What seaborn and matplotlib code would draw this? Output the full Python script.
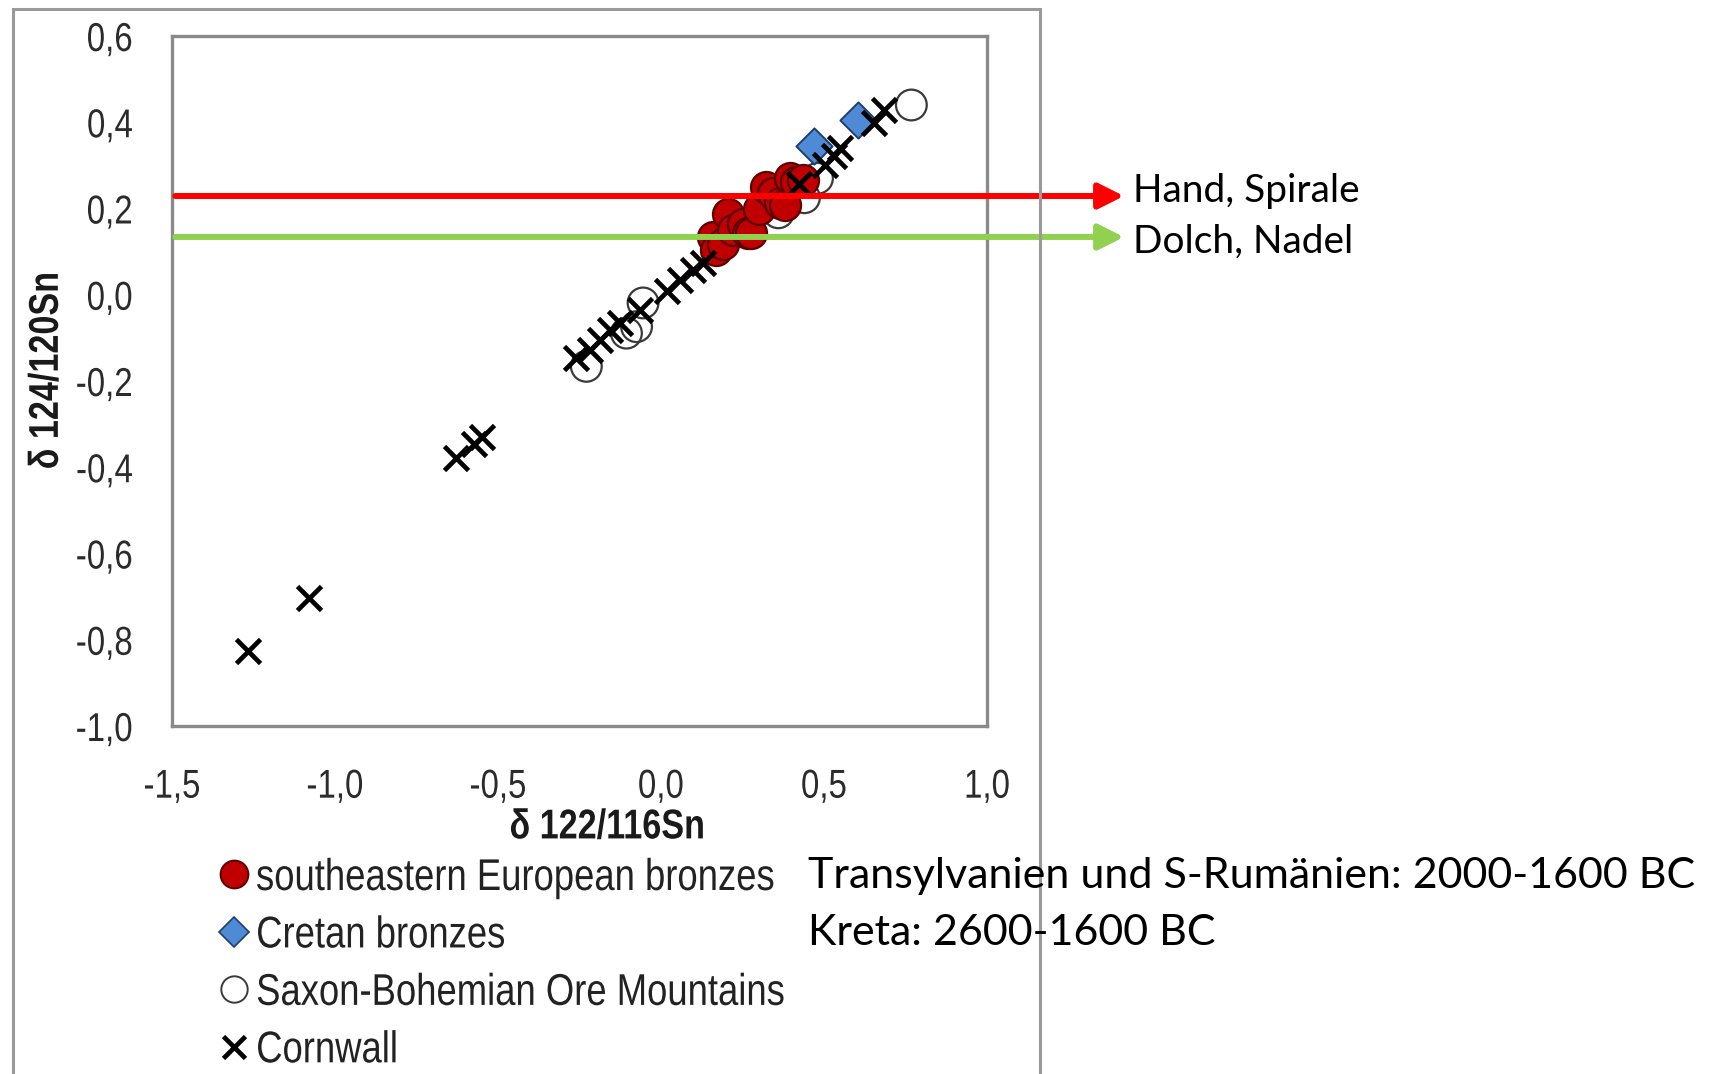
import matplotlib
matplotlib.use("Agg")
import matplotlib.pyplot as plt
import matplotlib.patheffects as pe
from matplotlib.patheffects import AbstractPathEffect
from matplotlib.transforms import Affine2D
from matplotlib.lines import Line2D
from matplotlib.patches import Rectangle
import seaborn as sns

# --- Tin isotope data (delta 122/116Sn vs delta 124/120Sn) ---
se_bronze_x = [0.160, 0.170, 0.190, 0.205, 0.221, 0.250, 0.266, 0.275, 0.300, 0.323, 0.343,
               0.364, 0.379, 0.395, 0.413, 0.435]
se_bronze_y = [0.135, 0.104, 0.118, 0.187, 0.150, 0.165, 0.144, 0.144, 0.200, 0.251, 0.236,
               0.213, 0.209, 0.270, 0.262, 0.267]

cretan_x = [0.470, 0.604]
cretan_y = [0.344, 0.406]

saxon_x = [-0.229, -0.106, -0.075, -0.055, 0.360, 0.440, 0.480, 0.768]
saxon_y = [-0.166, -0.089, -0.074, -0.019, 0.190, 0.225, 0.270, 0.440]

cornwall_x = [-1.268, -1.079, -0.628, -0.575, -0.548, -0.262, -0.219, -0.188, -0.157, -0.127,
              -0.065, 0.017, 0.057, 0.098, 0.129, 0.423, 0.502, 0.530, 0.548, 0.653, 0.683]
cornwall_y = [-0.825, -0.703, -0.379, -0.346, -0.329, -0.146, -0.128, -0.105, -0.081, -0.066,
              -0.035, 0.008, 0.035, 0.058, 0.073, 0.257, 0.301, 0.322, 0.340, 0.398, 0.429]

x_ticks = [-1.5, -1.0, -0.5, 0.0, 0.5, 1.0]
x_tick_labels = ["-1,5", "-1,0", "-0,5", "0,0", "0,5", "1,0"]
y_ticks = [-1.0, -0.8, -0.6, -0.4, -0.2, 0.0, 0.2, 0.4, 0.6]
y_tick_labels = ["-1,0", "-0,8", "-0,6", "-0,4", "-0,2", "0,0", "0,2", "0,4", "0,6"]

legend_labels = ["southeastern European bronzes", "Cretan bronzes",
                 "Saxon-Bohemian Ore Mountains", "Cornwall"]

# horizontal marker lines for artefact groups
marker_levels = [0.229, 0.134]
marker_colors = ["#FF0000", "#92D050"]
marker_texts = ["Hand, Spirale", "Dolch, Nadel"]

period_texts = ["Transylvanien und S-Rumänien: 2000-1600 BC", "Kreta: 2600-1600 BC"]


class Condense(AbstractPathEffect):
    """Squeeze a text path horizontally (along its baseline) to imitate a narrow face."""

    def __init__(self, factor=0.82, anchor=0.0):
        super().__init__()
        self.factor = factor
        self.anchor = anchor

    def draw_path(self, renderer, gc, tpath, affine, rgbFace=None):
        ext = tpath.get_extents()
        x0 = ext.x0 + self.anchor * ext.width
        squeeze = Affine2D().translate(-x0, 0).scale(self.factor, 1).translate(x0, 0)
        renderer.draw_path(gc, tpath, squeeze + affine, rgbFace)


# --- styling ---
sns.set_theme(style="white")
plt.rcParams["font.family"] = ["Liberation Sans", "DejaVu Sans"]
side_font = ["Lato", "Open Sans", "DejaVu Sans"]

W, H = 1720, 1074
fig = plt.figure(figsize=(W / 100, H / 100), dpi=100)


def fx(px):
    return px / W


def fy(py):
    return 1 - py / H


ax = fig.add_axes([fx(172), fy(726), fx(987) - fx(172), fy(36) - fy(726)])

sns.scatterplot(x=saxon_x, y=saxon_y, ax=ax, marker="o", s=490,
                facecolor="none", edgecolor="#3a3a3a", linewidth=1.6, zorder=2)
sns.scatterplot(x=se_bronze_x, y=se_bronze_y, ax=ax, marker="o", s=500,
                color="#C00000", edgecolor="#5a0000", linewidth=1.6, zorder=3)
sns.scatterplot(x=cretan_x, y=cretan_y, ax=ax, marker="D", s=340,
                color="#4F8AD6", edgecolor="#1f3f6a", linewidth=1.4, zorder=4)
sns.scatterplot(x=cornwall_x, y=cornwall_y, ax=ax, marker="x", s=300,
                color="black", linewidth=3.4, zorder=5)

ax.set_xlim(-1.5, 1.0)
ax.set_ylim(-1.0, 0.6)
ax.set_xticks(x_ticks)
ax.set_xticklabels(x_tick_labels)
ax.set_yticks(y_ticks)
ax.set_yticklabels(y_tick_labels)
ax.tick_params(axis="both", length=0, labelsize=29, labelcolor="#2b2b2b")
ax.tick_params(axis="x", pad=30)
ax.tick_params(axis="y", pad=28)
for t in ax.get_xticklabels():
    t.set_path_effects([Condense(0.82, 0.5)])
for t in ax.get_yticklabels():
    t.set_path_effects([Condense(0.82, 1.0)])
for sp in ax.spines.values():
    sp.set_visible(True)
    sp.set_color("#8a8a8a")
    sp.set_linewidth(2.4)

ax.set_xlabel("δ 122/116Sn", fontsize=30, fontweight="bold", color="#1a1a1a")
ax.set_ylabel("δ 124/120Sn", fontsize=30, fontweight="bold", color="#1a1a1a")
ax.xaxis.set_label_coords(0.534, -0.118)
ax.yaxis.set_label_coords(-0.129, 0.515)
ax.xaxis.label.set_path_effects([Condense(0.82, 0.5)])
ax.yaxis.label.set_path_effects([Condense(0.82, 0.5)])

# legend
handles = [
    Line2D([], [], linestyle="none", marker="o", markersize=20,
           markerfacecolor="#C00000", markeredgecolor="#5a0000", markeredgewidth=1.4),
    Line2D([], [], linestyle="none", marker="D", markersize=15,
           markerfacecolor="#4F8AD6", markeredgecolor="#1f3f6a", markeredgewidth=1.2),
    Line2D([], [], linestyle="none", marker="o", markersize=19,
           markerfacecolor="none", markeredgecolor="#3a3a3a", markeredgewidth=1.4),
    Line2D([], [], linestyle="none", marker="x", markersize=16,
           markeredgecolor="black", markeredgewidth=3.4),
]
leg = ax.legend(handles, legend_labels, loc="upper left",
                bbox_to_anchor=(fx(218), fy(858)), bbox_transform=fig.transFigure,
                frameon=False, fontsize=32, handlelength=0.7, handletextpad=0.15,
                labelspacing=0.37, borderpad=0, borderaxespad=0)
for t in leg.get_texts():
    t.set_color("#222222")
    t.set_path_effects([Condense(0.82, 0.0)])

# outer frame around the chart panel
fig.add_artist(Rectangle((fx(13), -0.02), fx(1040) - fx(13), fy(9) + 0.02,
                         transform=fig.transFigure, fill=False,
                         edgecolor="#9a9a9a", linewidth=2.2))

# arrows marking artefact groups
shadow = [pe.SimplePatchShadow(offset=(0, -2.5), shadow_rgbFace="#777777", alpha=0.35), pe.Normal()]
for level, col, txt, ty in zip(marker_levels, marker_colors, marker_texts, [191, 242]):
    arr = ax.annotate("", xy=(fx(1124), level), xycoords=("figure fraction", "data"),
                      xytext=(-1.49, level), textcoords="data",
                      arrowprops=dict(arrowstyle="-|>,head_length=0.9,head_width=0.45",
                                      color=col, lw=4.3, shrinkA=0, shrinkB=0,
                                      mutation_scale=17),
                      annotation_clip=False, zorder=6)
    arr.arrow_patch.set_path_effects(shadow)
    fig.text(fx(1133), fy(ty), txt, ha="left", va="center", fontsize=28,
             family=side_font, color="black")

# period notes
for txt, ty in zip(period_texts, [876, 933]):
    fig.text(fx(808), fy(ty), txt, ha="left", va="center", fontsize=31,
             family=side_font, color="black")

fig.savefig("out.png", dpi=100)
